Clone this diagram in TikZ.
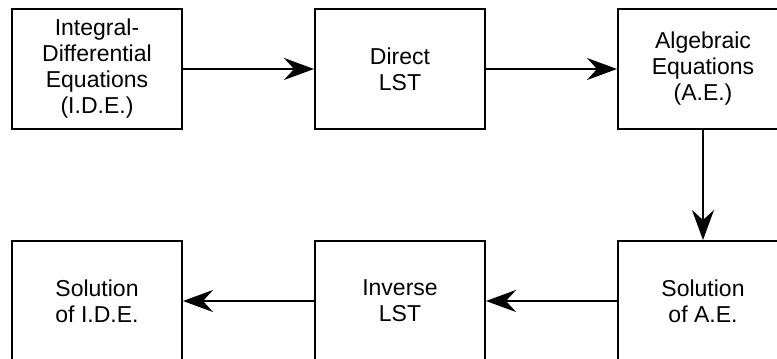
\documentclass[tikz,border=0pt]{standalone}
\usepackage{fontspec}
\setmainfont{Liberation Sans}
\usetikzlibrary{arrows.meta}
\usetikzlibrary{calc}
\tikzset{every node/.style={font=\fontsize{23}{26}\selectfont}}
\tikzset{block/.style={draw, line width=2pt, minimum width=170pt, minimum height=120pt, align=center, inner sep=0pt}}
\tikzset{flow/.style={-{Stealth[length=30pt, width=22pt, inset=10pt]}, line width=1.8pt}}
\def\Dx{303}
\def\Top{290}
\def\Bot{58}

\begin{document}
\begin{tikzpicture}[x=1pt, y=1pt]
  \useasboundingbox (0,0) rectangle (777,359);

 \coordinate (PS) at (97, \Top);
 \coordinate (PB) at (97, \Bot);

  % upper row
  \node[block] (IDE)  at (PS) {Integral-\\Differential\\Equations\\(I.D.E.)};
  \node[block] (DLST) at ($(PS) + (\Dx, 0)$) {Direct\\LST};
  \node[block] (AE)   at ($(PS) + (2*\Dx, 0)$) {Algebraic\\Equations\\(A.E.)};

  % lower row
  \node[block] (SIDE) at (PB) {Solution\\of I.D.E.};
  \node[block] (ILST) at ($(PB) + (\Dx, 0)$) {Inverse\\LST};
  \node[block] (SAE)  at ($(PB) + (2*\Dx, 0)$) {Solution\\of A.E.};

  % arrows
  \draw[flow] (IDE.east) -- (DLST.west);
  \draw[flow] (DLST.east) -- (AE.west);
  \draw[flow] (AE.south) -- (SAE.north);
  \draw[flow] (SAE.west) -- (ILST.east);
  \draw[flow] (ILST.west) -- (SIDE.east);

\end{tikzpicture}
\end{document}
